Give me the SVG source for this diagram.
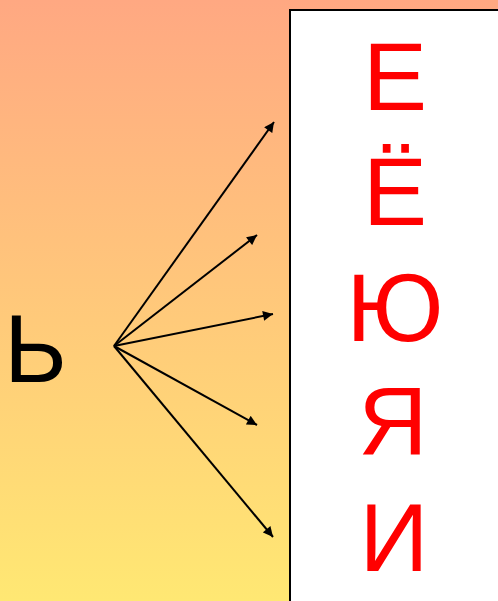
<svg xmlns="http://www.w3.org/2000/svg" width="498" height="601" viewBox="0 0 498 601">
<style>
.red{font-family:"Liberation Sans",Arial,sans-serif;font-size:96px;fill:#FF0000;text-anchor:middle}
.blk{font-family:"Liberation Sans",Arial,sans-serif;font-size:96px;fill:#000000}
.arr{stroke:#000;stroke-width:2;fill:none;marker-end:url(#ah)}
</style>
<defs>
<linearGradient id="bg" x1="0" y1="0" x2="0" y2="1">
<stop offset="0" stop-color="#FFA882"/>
<stop offset="1" stop-color="#FFE873"/>
</linearGradient>
<marker id="ah" viewBox="0 0 10 10" refX="10" refY="5" markerWidth="5.5" markerHeight="5" orient="auto" markerUnits="strokeWidth">
<path d="M0,0 L10,5 L0,10 z" fill="#000"/>
</marker>
</defs>
<rect x="0" y="0" width="498" height="601" fill="url(#bg)"/>
<g id="box">
<rect x="290" y="10" width="220" height="600" fill="#FFFFFF" stroke="#000" stroke-width="2"/>
</g>
<g id="vowels">
<text class="red" x="395" y="110">Е</text>
<text class="red" x="395" y="225">Ё</text>
<text class="red" x="395" y="341">Ю</text>
<text class="red" x="393" y="455">Я</text>
<text class="red" x="394" y="571">И</text>
</g>
<g id="soft-sign">
<text class="blk" x="4" y="382">Ь</text>
</g>
<g id="connectors">
<line class="arr" x1="114" y1="346" x2="274" y2="122"/>
<line class="arr" x1="114" y1="346" x2="257" y2="235"/>
<line class="arr" x1="114" y1="346" x2="273" y2="314"/>
<line class="arr" x1="114" y1="346" x2="257" y2="425"/>
<line class="arr" x1="114" y1="346" x2="273" y2="537"/>
</g>
</svg>
